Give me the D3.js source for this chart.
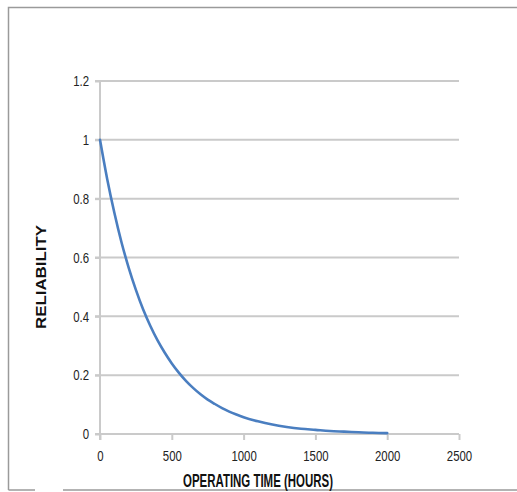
<!DOCTYPE html>
<html>
<head>
<meta charset="utf-8">
<script src="https://cdn.jsdelivr.net/npm/d3@7"></script>
<style>
  html, body { margin: 0; padding: 0; background: #fff; }
  svg { display: block; }
</style>
</head>
<body>
<svg id="chart" width="517" height="492"></svg>
<script>
// Operating time (hours) and reliability readings of the curve
const hours = [0, 50, 100, 150, 200, 250, 300, 350, 400, 450, 500, 550, 600, 650, 700, 750,
               800, 850, 900, 950, 1000, 1100, 1200, 1300, 1400, 1500, 1600, 1700, 1800, 1900, 2000];
const reliability = [1.000, 0.867, 0.752, 0.651, 0.565, 0.490, 0.424, 0.368, 0.319, 0.277, 0.240,
                     0.208, 0.180, 0.156, 0.135, 0.117, 0.102, 0.088, 0.076, 0.066, 0.057,
                     0.043, 0.032, 0.024, 0.018, 0.014, 0.010, 0.008, 0.006, 0.004, 0.003];
const xTicks = [0, 500, 1000, 1500, 2000, 2500];
const yTicks = [0, 0.2, 0.4, 0.6, 0.8, 1, 1.2];
const xTitle = "OPERATING TIME (HOURS)";
const yTitle = "RELIABILITY";

const svg = d3.select("#chart");
const plot = { left: 100, right: 459, top: 81, bottom: 434 };

const x = d3.scaleLinear().domain([0, 2500]).range([plot.left, plot.right]);
const y = d3.scaleLinear().domain([0, 1.2]).range([plot.bottom, plot.top]);

const font = "'Liberation Sans Narrow', 'Arial Narrow', 'Liberation Sans', sans-serif";

// Squeeze text horizontally to a condensed look
function condense(sel, factor) {
  sel.each(function () {
    const w = this.getComputedTextLength();
    d3.select(this).attr("textLength", w * factor).attr("lengthAdjust", "spacingAndGlyphs");
  });
}

// Outer frame (left, top, bottom with a small gap)
const frame = svg.append("g").attr("stroke", "#9a9a9a").attr("stroke-width", 1.5).attr("fill", "none");
frame.append("path").attr("d", "M8.5,490 V7.5 H517");
frame.append("path").attr("d", "M8.5,490 H35");
frame.append("path").attr("d", "M63,490 H517");

// Horizontal gridlines
svg.append("g")
  .selectAll("line")
  .data(yTicks.filter(d => d > 0))
  .join("line")
  .attr("x1", plot.left - 5).attr("x2", plot.right)
  .attr("y1", d => y(d)).attr("y2", d => y(d))
  .attr("stroke", "#cacaca").attr("stroke-width", 2);

// Y axis
const yAxis = svg.append("g")
  .attr("transform", `translate(${plot.left},0)`)
  .call(d3.axisLeft(y).tickValues(yTicks).tickSize(5).tickPadding(6).tickFormat(d3.format("")));
yAxis.select(".domain").attr("stroke", "#cacaca").attr("stroke-width", 2)
  .attr("d", `M0,${plot.top}V${plot.bottom + 6}`);
yAxis.selectAll(".tick line").attr("stroke", "#cacaca").attr("stroke-width", 2);
yAxis.selectAll(".tick text")
  .attr("font-family", font).attr("font-size", 15).attr("fill", "#222")
  .call(condense, 0.76);

// X axis
const xAxis = svg.append("g")
  .attr("transform", `translate(0,${plot.bottom})`)
  .call(d3.axisBottom(x).tickValues(xTicks).tickSize(6).tickPadding(10).tickFormat(d3.format("")));
xAxis.select(".domain").attr("stroke", "#cacaca").attr("stroke-width", 2)
  .attr("d", `M${plot.left - 5},0H${plot.right}`);
xAxis.selectAll(".tick line").attr("stroke", "#cacaca").attr("stroke-width", 2);
xAxis.selectAll(".tick text")
  .attr("font-family", font).attr("font-size", 15).attr("fill", "#222")
  .call(condense, 0.76);

// Reliability curve
const line = d3.line()
  .x((d, i) => x(hours[i]))
  .y(d => y(d))
  .curve(d3.curveMonotoneX);
svg.append("path")
  .datum(reliability)
  .attr("d", line)
  .attr("fill", "none")
  .attr("stroke", "#4a7ec0")
  .attr("stroke-width", 2.6)
  .attr("stroke-linecap", "round");

// Axis titles
svg.append("text")
  .attr("x", 258).attr("y", 487)
  .attr("text-anchor", "middle")
  .attr("font-family", font).attr("font-weight", "bold").attr("font-size", 18)
  .attr("fill", "#111")
  .attr("textLength", 150).attr("lengthAdjust", "spacingAndGlyphs")
  .text(xTitle);

svg.append("text")
  .attr("transform", "translate(46,277) rotate(-90)")
  .attr("text-anchor", "middle")
  .attr("font-family", "'Liberation Sans', Arial, sans-serif")
  .attr("font-weight", "bold").attr("font-size", 14)
  .attr("fill", "#111")
  .attr("textLength", 104).attr("lengthAdjust", "spacingAndGlyphs")
  .text(yTitle);
</script>
</body>
</html>
